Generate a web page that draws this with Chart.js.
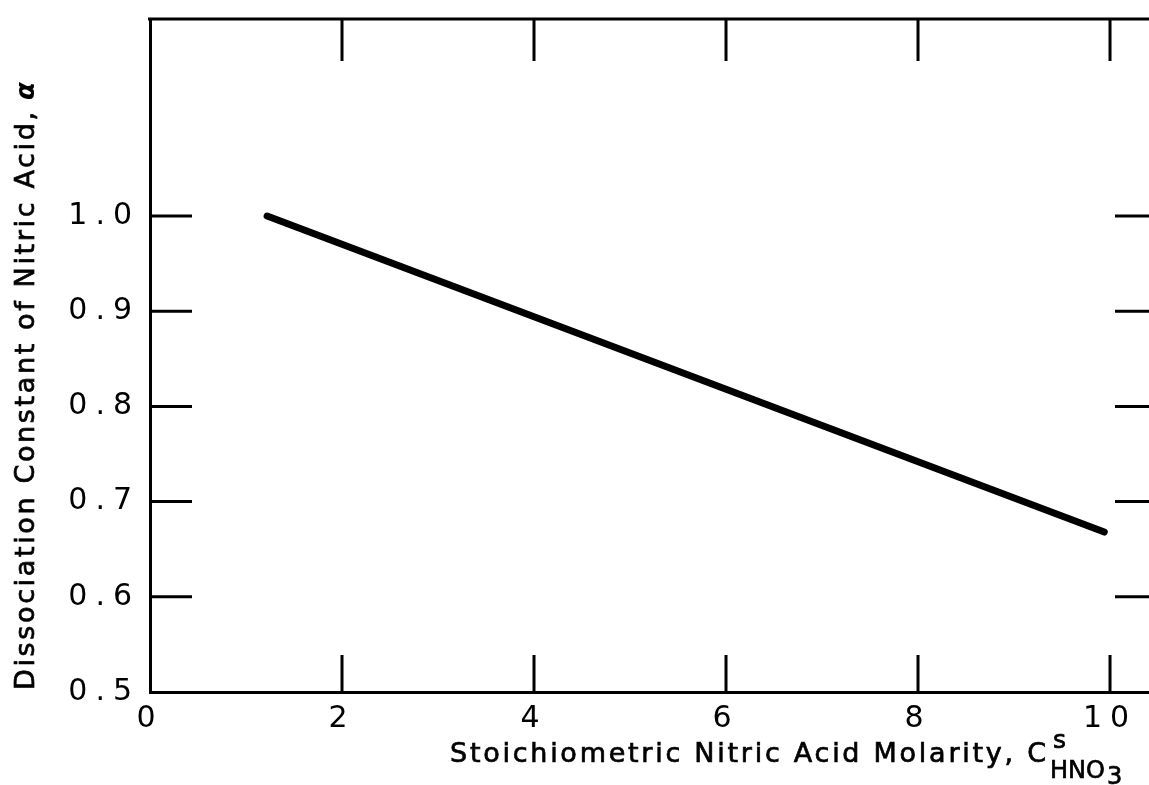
<!DOCTYPE html>
<html>
<head>
<meta charset="utf-8">
<title>Dissociation Constant of Nitric Acid</title>
<script src="https://cdn.jsdelivr.net/npm/chart.js@4/dist/chart.umd.min.js"></script>
<style>
  html, body { margin: 0; padding: 0; background: #fff; }
  #grafico { display: block; }
</style>
</head>
<body>
<canvas id="grafico" width="1149" height="785"></canvas>
<script>
// Dados
const molaridade = [1.22, 9.94];
const alfa = [1.0, 0.668];
const xTicks = [0, 2, 4, 6, 8, 10];
const yTicks = [0.5, 0.6, 0.7, 0.8, 0.9, 1.0];

const xTitulo = 'Stoichiometric Nitric Acid Molarity, C';
const yTitulo = 'Dissociation Constant of Nitric Acid,';

const fonte = '"DejaVu Sans", sans-serif';

// texto com espaçamento ajustado para caber numa largura
function textoEspacado(ctx, str, x, y, largura) {
    ctx.letterSpacing = '0px';
    const w = ctx.measureText(str).width;
    const sp = (largura - w) / (str.length - 1);
    ctx.letterSpacing = sp + 'px';
    ctx.fillText(str, x, y);
    ctx.strokeText(str, x, y);
    ctx.letterSpacing = '0px';
}

// Moldura, marcas internas e títulos
const moldura = {
    id: 'moldura',
    beforeDraw(chart) {
        chart.ctx.letterSpacing = '8px';
    },
    afterDraw(chart) {
        const { ctx, chartArea: a, scales: { x, y } } = chart;
        ctx.save();
        ctx.letterSpacing = '0px';
        ctx.strokeStyle = '#000';
        ctx.lineWidth = 3;
        ctx.beginPath();
        ctx.moveTo(a.left - 2, a.top);
        ctx.lineTo(a.right, a.top);
        xTicks.forEach(v => {
            if (v === xTicks[0]) return;
            const px = x.getPixelForValue(v);
            ctx.moveTo(px, a.bottom);
            ctx.lineTo(px, a.bottom - 37);
            ctx.moveTo(px, a.top);
            ctx.lineTo(px, a.top + 42);
        });
        yTicks.forEach(v => {
            if (v === yTicks[0]) return;
            const py = y.getPixelForValue(v);
            ctx.moveTo(a.left, py);
            ctx.lineTo(a.left + 42, py);
            ctx.moveTo(a.right - 34, py);
            ctx.lineTo(a.right, py);
        });
        ctx.stroke();

        ctx.fillStyle = '#000';
        ctx.lineWidth = 0.7;
        ctx.textBaseline = 'alphabetic';
        ctx.textAlign = 'left';

        // título do eixo x com índices
        ctx.font = '27px ' + fonte;
        textoEspacado(ctx, xTitulo, 450, 762, 596);
        ctx.font = '25px ' + fonte;
        ctx.fillText('s', 1053, 748);
        ctx.strokeText('s', 1053, 748);
        ctx.font = '24px ' + fonte;
        ctx.fillText('HNO', 1050, 778);
        ctx.strokeText('HNO', 1050, 778);
        ctx.fillText('3', 1107, 784);
        ctx.strokeText('3', 1107, 784);

        // título do eixo y
        ctx.save();
        ctx.translate(34, 690);
        ctx.rotate(-Math.PI / 2);
        ctx.font = '27px ' + fonte;
        textoEspacado(ctx, yTitulo, 0, 0, 578);
        ctx.font = 'bold italic 26px ' + fonte;
        ctx.fillText('α', 590, 0);
        ctx.restore();

        ctx.restore();
    }
};

const semMargem = s => {
    s.paddingTop = 0;
    s.paddingBottom = 0;
    s.paddingLeft = 0;
    s.paddingRight = 0;
};

const ctx = document.getElementById('grafico');
new Chart(ctx, {
    type: 'scatter',
    data: {
        datasets: [{
            data: molaridade.map((m, i) => ({ x: m, y: alfa[i] })),
            showLine: true,
            borderColor: '#000',
            borderWidth: 7,
            borderCapStyle: 'round',
            pointRadius: 0,
            tension: 0
        }]
    },
    options: {
        responsive: false,
        animation: false,
        layout: { padding: { top: 19, right: 0, left: 0, bottom: 0 } },
        plugins: {
            legend: { display: false },
            tooltip: { enabled: false }
        },
        scales: {
            x: {
                type: 'linear',
                min: 0,
                max: 10.406,
                afterBuildTicks: s => { s.ticks = xTicks.map(v => ({ value: v })); },
                afterFit: s => { s.height = 93; semMargem(s); },
                grid: { display: true, drawOnChartArea: false, drawTicks: false },
                border: { display: true, color: '#000', width: 3 },
                ticks: {
                    color: '#000',
                    font: { family: fonte, size: 30 },
                    padding: 9,
                    maxRotation: 0,
                    autoSkip: false,
                    callback: v => String(v)
                }
            },
            y: {
                type: 'linear',
                min: 0.5,
                max: 1.207,
                afterBuildTicks: s => { s.ticks = yTicks.map(v => ({ value: v })); },
                afterFit: s => { s.width = 150; semMargem(s); },
                grid: { display: true, drawOnChartArea: false, drawTicks: false },
                border: { display: true, color: '#000', width: 3 },
                ticks: {
                    color: '#000',
                    font: { family: fonte, size: 30 },
                    padding: 10,
                    autoSkip: false,
                    callback: v => Number(v).toFixed(1)
                }
            }
        }
    },
    plugins: [moldura]
});
</script>
</body>
</html>
